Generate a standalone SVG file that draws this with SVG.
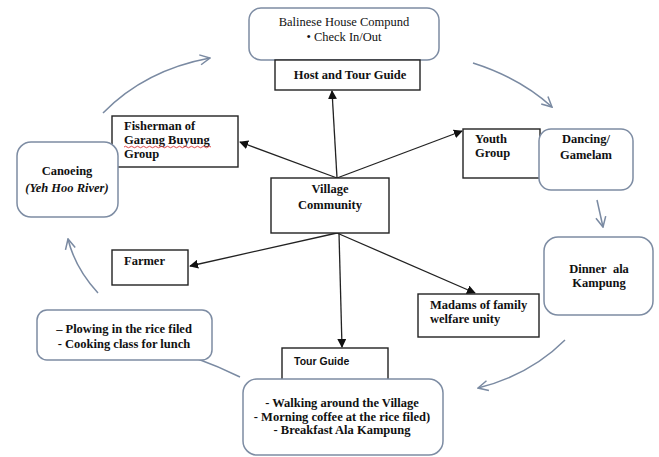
<svg xmlns="http://www.w3.org/2000/svg" width="659" height="457" viewBox="0 0 659 457">
<style>
.rb{fill:#fff;stroke:#7d8ca3;stroke-width:1.5}
.bx{fill:#fff;stroke:#222;stroke-width:1.4}
.t{font-family:"Liberation Serif","Times New Roman",serif;font-size:12.5px;fill:#111}
.b{font-weight:bold}
.c{text-anchor:middle}
.s{font-family:"Liberation Sans",Arial,sans-serif;font-size:10.5px;font-weight:bold;fill:#111}
.ln{stroke:#222;stroke-width:1.3;fill:none;marker-end:url(#ah)}
.cv{stroke:#7a8aa2;stroke-width:1.5;fill:none;marker-end:url(#oh)}
</style>
<defs>
<marker id="ah" viewBox="0 0 10 10" refX="9" refY="5" markerWidth="9" markerHeight="9" markerUnits="userSpaceOnUse" orient="auto">
<path d="M0,0 L10,5 L0,10 z" fill="#111"/>
</marker>
<marker id="oh" viewBox="0 0 12 12" refX="11" refY="6" markerWidth="12" markerHeight="12" markerUnits="userSpaceOnUse" orient="auto">
<path d="M1,1 L11,6 L1,11" fill="none" stroke="#7a8aa2" stroke-width="1.5"/>
</marker>
</defs>

<g id="connectors">
<line class="ln" x1="337" y1="178" x2="332" y2="91"/>
<line class="ln" x1="337" y1="178" x2="240" y2="142"/>
<line class="ln" x1="337" y1="178" x2="462" y2="131"/>
<line class="ln" x1="337" y1="233" x2="190" y2="266"/>
<line class="ln" x1="337" y1="233" x2="475" y2="293"/>
<line class="ln" x1="339" y1="233" x2="342" y2="347"/>
<path class="cv" d="M103,113 Q145,70 210,58"/>
<path class="cv" d="M473,63 Q520,78 552,107"/>
<path class="cv" d="M597,200 L603,227"/>
<path class="cv" d="M565,340 Q530,375 478,388"/>
<path class="cv" d="M240,377 Q195,355 153,346"/>
<path class="cv" d="M98,293 Q75,268 68,239"/>
</g>

<g id="balinese">
<rect class="rb" x="249" y="8" width="190" height="52" rx="12"/>
<text class="t c" x="344" y="26">Balinese House Compund</text>
<text class="t c" x="344" y="41">• Check In/Out</text>
</g>
<g id="host">
<rect class="bx" x="275" y="60" width="145" height="30"/>
<text class="t b c" x="350" y="79" font-size="13.5">Host and Tour Guide</text>
</g>
<g id="fisherman">
<rect class="bx" x="112" y="116" width="126" height="51"/>
<text class="t b" x="124" y="130">Fisherman of</text>
<text class="t b" x="124" y="144">Garang Buyung</text>
<text class="t b" x="124" y="158">Group</text>
<path d="M124,147 q1.5,-1.5 3,0 t3,0 t3,0 t3,0 t3,0 t3,0 t3,0 t3,0 t3,0 t3,0 t3,0 t3,0 t3,0 t3,0 t3,0 t3,0 t3,0 t3,0 t3,0 t3,0 t3,0 t3,0 t3,0 t3,0 t3,0 t3,0 t3,0 t3,0 t3,0" fill="none" stroke="#d33" stroke-width="0.9"/>
</g>
<g id="canoeing">
<rect class="rb" x="17" y="142" width="101" height="75" rx="14"/>
<text class="t b c" x="67" y="175">Canoeing</text>
<text class="t b c" x="67" y="192" font-style="italic">(Yeh Hoo River)</text>
</g>
<g id="youth">
<rect class="bx" x="463" y="129" width="77" height="49"/>
<text class="t b" x="475" y="143">Youth</text>
<text class="t b" x="475" y="157">Group</text>
</g>
<g id="dancing">
<rect class="rb" x="539" y="129" width="94" height="61" rx="12"/>
<text class="t b c" x="586" y="143">Dancing/</text>
<text class="t b c" x="586" y="159">Gamelam</text>
</g>
<g id="village">
<rect class="bx" x="271" y="178" width="118" height="55"/>
<text class="t b c" x="330" y="193">Village</text>
<text class="t b c" x="330" y="209">Community</text>
</g>
<g id="farmer">
<rect class="bx" x="112" y="250" width="76" height="35"/>
<text class="t b" x="124" y="265">Farmer</text>
</g>
<g id="plowing">
<rect class="rb" x="37" y="310" width="175" height="50" rx="10"/>
<text class="t b c" x="124" y="333">–  Plowing in the rice filed</text>
<text class="t b c" x="124" y="348">- Cooking class for lunch</text>
</g>
<g id="madams">
<rect class="bx" x="418" y="294" width="121" height="43"/>
<text class="t b" x="430" y="309">Madams of family</text>
<text class="t b" x="430" y="323">welfare unity</text>
</g>
<g id="dinner">
<rect class="rb" x="544" y="237" width="109" height="78" rx="14"/>
<text class="t b c" x="599" y="273">Dinner&#160; ala</text>
<text class="t b c" x="599" y="287">Kampung</text>
</g>
<g id="tourguide">
<rect class="bx" x="282" y="348" width="106" height="35"/>
<text class="s" x="294" y="365">Tour Guide</text>
</g>
<g id="walking">
<rect class="rb" x="243" y="379" width="200" height="76" rx="14"/>
<text class="t b c" x="342" y="407">- Walking around the Village</text>
<text class="t b c" x="342" y="421">- Morning coffee at the rice filed)</text>
<text class="t b c" x="342" y="434">- Breakfast Ala Kampung</text>
</g>
</svg>
